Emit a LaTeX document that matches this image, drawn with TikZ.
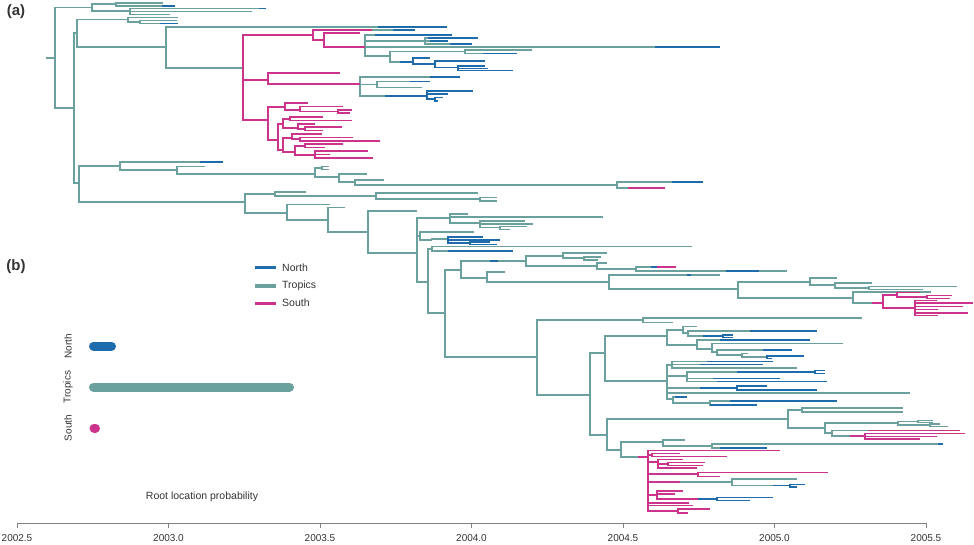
\documentclass[tikz,border=0pt]{standalone}
\usepackage{fontspec}
\setmainfont{Liberation Sans}
\definecolor{tropics}{RGB}{106,160,158}
\definecolor{north}{RGB}{31,108,172}
\definecolor{south}{RGB}{204,52,140}
\definecolor{ink}{RGB}{51,51,51}
\begin{document}
\begin{tikzpicture}[x=1pt,y=-1pt,
    tropicline/.style={draw=tropics,line width=1.8pt},
    northline/.style={draw=north,line width=1.8pt},
    southline/.style={draw=south,line width=1.8pt},
    probbar/.style={line width=9pt,line cap=round},
    axisline/.style={draw=black!50,line width=0.9pt},
    every node/.append style={text=ink,inner sep=0pt,font=\fontsize{10.5}{12}\selectfont}]
  \useasboundingbox (0,0) rectangle (974,545);

  % tree, tropics branches
  \draw[tropicline] (46,58) -- (55,58);
  \foreach \a/\b/\c/\d in {55/58/92/7.5, 55/58/74/108, 92/7.5/116/4.3, 92/7.5/130/11,
      116/4.3/163/2.7, 116/4.3/175/6, 130/11/266/8.5, 130/11/252/11.5, 130/11/170/14.5,
      74/108/77/33, 74/108/79/183, 77/33/128/19.5, 77/33/166/47,
      128/19.5/178/17.5, 128/19.5/140/22, 140/22/177/20.5, 140/22/178/23.5,
      166/47/447/26.7, 166/47/243/68,
      365/47/452/35, 365/47/425/41, 425/41/478/38, 425/41/448/41, 425/41/472/44,
      365/47/720/47, 365/47/390/56, 390/56/465/51.5, 465/51.5/532/50, 465/51.5/517/53.5,
      390/56/413/62,
      360/84/460/77, 360/84/377/84.5, 377/84.5/430/81.5, 377/84.5/422/87.5, 360/84/427/96,
      79/183/120/166, 79/183/245/202, 120/166/223/162, 120/166/177/170,
      177/170/205/166.5, 177/170/315/174, 315/174/322/168, 322/168/329/166.5, 322/168/329/169.5,
      315/174/339/177, 339/177/367/174, 339/177/355/182, 355/182/384/180, 355/182/617/185,
      617/185/703/182, 617/185/665/188,
      245/202/275/194, 245/202/287/213, 275/194/306/192, 275/194/376/196,
      376/196/478/193, 376/196/480/199, 480/199/497/197.5, 480/199/497/201,
      287/213/330/204.5, 287/213/328/220, 328/220/345/207.5, 328/220/368/232,
      368/232/417/211, 368/232/417/253,
      417/253/450/218, 417/253/420/236, 417/253/428/282,
      450/218/468/214, 450/218/603/217, 450/218/480/223,
      480/223/525/221, 480/223/533/224, 480/223/500/227.5, 500/227.5/527/226.5, 500/227.5/510/229.5,
      420/236/474/232, 420/236/432/240, 432/240/448/239,
      428/282/432/249, 432/249/692/246.5, 432/249/513/251, 428/282/445/313,
      445/313/461/270, 445/313/537/357,
      461/270/526/261, 461/270/487/278, 526/261/563/256, 526/261/597/266,
      563/256/607/253, 563/256/584/258, 584/258/601/257, 584/258/598/260,
      597/266/607/263, 597/266/636/269, 636/269/676/267, 636/269/787/271,
      487/278/505/272, 487/278/609/282, 609/282/720/275, 609/282/738/289,
      738/289/810/282, 738/289/853/298,
      810/282/837/278, 810/282/835/285, 835/285/872/283, 835/285/869/288,
      869/288/957/286.5, 869/288/923/289.5,
      853/298/931/292, 853/298/883/303,
      537/357/643/320, 537/357/590/395, 643/320/862/318, 643/320/673/322.5,
      590/395/605/353, 590/395/607/435, 605/353/667/336, 605/353/667/381,
      667/336/683/330, 667/336/697/345,
      683/330/697/326.5, 683/330/688/333, 688/333/817/331, 688/333/723/336,
      697/345/810/340, 697/345/712/349, 712/349/843/343.5, 712/349/717/352,
      717/352/792/350, 717/352/742/355, 742/355/748/353.5, 742/355/767/357,
      667/381/672/365, 672/365/773/361.5, 672/365/763/364.5, 672/365/797/368,
      667/381/687/376, 687/376/815/372, 687/376/780/378.5, 687/376/827/381.5,
      667/381/737/388, 667/381/910/393,
      667/381/673/399, 673/399/687/397, 673/399/710/403, 710/403/837/401, 710/403/757/405,
      607/435/788/419, 607/435/621/450,
      788/419/802/410, 802/410/903/408, 802/410/903/412,
      788/419/825/428, 825/428/898/423, 898/423/918/421.5, 918/421.5/933/420.5,
      918/421.5/933/422.5, 898/423/930/425, 930/425/940/424, 930/425/948/426.5,
      825/428/832/433, 832/433/960/430.5, 832/433/865/436,
      621/450/663/442, 621/450/648/457,
      663/442/685/440, 663/442/712/446, 712/446/943/444, 712/446/767/448,
      680/482/732/482, 732/482/797/479, 732/482/790/485.5}
    \draw[tropicline] (\a,\b) |- (\c,\d);

  % tree, south branches
  \foreach \a/\b/\c/\d in {243/68/313/35, 243/68/268/80, 243/68/268/120,
      313/35/415/30, 313/35/324/40, 324/40/360/33, 324/40/365/47,
      268/80/340/73, 268/80/360/84,
      268/120/285/107, 268/120/278/140,
      285/107/308/103, 285/107/300/110, 300/110/343/106.5, 300/110/338/111.5,
      338/111.5/352/110, 338/111.5/350/113,
      278/140/283/124, 278/140/283/150,
      283/124/290/119, 290/119/323/117, 290/119/352/120.5,
      283/124/298/128, 298/128/315/124, 298/128/305/129, 305/129/342/127, 305/129/323/130.5,
      283/150/292/138, 292/138/322/134, 292/138/300/139, 300/139/353/137.5, 300/139/380/141,
      283/150/295/152, 295/152/305/146, 305/146/343/144, 305/146/325/147.5,
      295/152/315/155, 315/155/368/151, 315/155/330/154.5, 315/155/373/158,
      883/303/897/295, 897/295/920/292.5, 897/295/927/297, 927/297/952/295.5, 927/297/950/298.5,
      883/303/915/308, 915/308/937/300.5, 915/308/973/303, 915/308/963/306.5,
      915/308/938/309.5, 915/308/968/313, 915/308/938/315.5,
      865/436/965/433.5, 865/436/937/436.5, 865/436/920/439,
      648/457/780/450.5, 648/457/652/455, 652/455/680/453.5, 652/455/727/456.5,
      648/457/658/462, 658/462/683/459.5, 658/462/668/464, 668/464/705/462.5,
      668/464/703/465.5, 658/462/697/468,
      648/457/698/474, 698/474/828/472.5, 698/474/720/476.5,
      648/457/680/482,
      648/457/657/495, 657/495/683/491, 657/495/675/494, 657/495/717/499,
      648/457/689/503, 648/457/693/505.5,
      648/457/678/511, 678/511/710/509, 678/511/688/513}
    \draw[southline] (\a,\b) |- (\c,\d);

  % tree, north branches
  \foreach \a/\b/\c/\d in {413/62/430/58, 413/62/435/64, 435/64/485/61, 435/64/458/67.5,
      458/67.5/485/66, 458/67.5/488/68.5, 458/67.5/513/70.5,
      427/96/473/91, 427/96/448/94, 427/96/435/99, 435/99/443/97.5, 435/99/438/101,
      448/239/483/237, 448/239/500/240, 448/239/470/243, 470/243/490/242, 470/243/497/244.5,
      723/336/733/335, 723/336/733/337.5, 767/357/804/356, 767/357/772/358.5,
      815/372/825/370.5, 815/372/825/373.5, 737/388/767/386, 737/388/817/390,
      790/485.5/805/484.5, 790/485.5/797/487, 717/499/773/497.5, 717/499/750/500.5}
    \draw[northline] (\a,\b) |- (\c,\d);

  % state changes along branches
  \foreach \y/\p/\q in {30/372/393}
    \draw[tropicline] (\p,\y) -- (\q,\y);
  \foreach \y/\p/\q in {188/628/665, 267/657/676, 303/872/883, 430.5/868/960,
      436/850/865, 457/638/648}
    \draw[southline] (\p,\y) -- (\q,\y);
  \foreach \y/\p/\q in {6/162/175, 8.5/259/266, 23.5/160/178, 26.7/378/447, 30/393/415,
      35/375/452, 38/428/478, 41/430/448, 44/450/472, 47/655/720, 53.5/483/517,
      62/400/413, 77/430/460, 81.5/410/430, 96/385/427, 162/200/223, 182/672/703,
      251/448/513, 261/490/498, 267/651/657, 271/726/759, 275/687/691,
      331/750/817, 336/703/723, 340/720/810, 350/763/792, 361.5/707/773,
      364.5/700/763, 372/737/815, 378.5/713/780, 381.5/717/827, 388/700/737,
      397/675/687, 401/730/837, 405/710/757, 444/938/943, 448/720/767,
      485.5/773/790, 499/698/717}
    \draw[northline] (\p,\y) -- (\q,\y);

  % panel labels
  \node[font=\bfseries\fontsize{15}{15}\selectfont] (pnla) at (16,12) {(a)};
  \node[font=\bfseries\fontsize{15}{15}\selectfont] (pnlb) at (16,267) {(b)};

  % legend
  \draw[north,line width=3pt] (255,268) -- (276,268);
  \draw[tropics,line width=3pt] (255,286) -- (276,286);
  \draw[south,line width=3pt] (255,303) -- (276,303);
  \node[anchor=west] (lgnorth) at (282,268) {North};
  \node[anchor=west] (lgtropics) at (282,286) {Tropics};
  \node[anchor=west] (lgsouth) at (282,303) {South};

  % root location probability
  \draw[probbar,north] (93.5,346) -- (111.5,346);
  \draw[probbar,tropics] (93.5,387) -- (289.5,387);
  \draw[probbar,south] (94,428) -- (95.5,428);
  \node[rotate=90,font=\fontsize{10}{12}\selectfont] (rtnorth) at (68,346) {North};
  \node[rotate=90,font=\fontsize{10}{12}\selectfont] (rttropics) at (68,387) {Tropics};
  \node[rotate=90,font=\fontsize{10}{12}\selectfont] (rtsouth) at (68,428) {South};
  \node (rtlabel) at (202,497) {Root location probability};

  % time axis
  \draw[axisline] (17,523) -- (926,523);
  \foreach \i/\yr in {0/2002.5,1/2003.0,2/2003.5,3/2004.0,4/2004.5,5/2005.0,6/2005.5} {
    \draw[axisline] (17+151.5*\i,523) -- (17+151.5*\i,528);
    \node[font=\fontsize{10}{11}\selectfont] (yr\i) at (17+151.5*\i,538) {\yr};
  }
\end{tikzpicture}
\end{document}
